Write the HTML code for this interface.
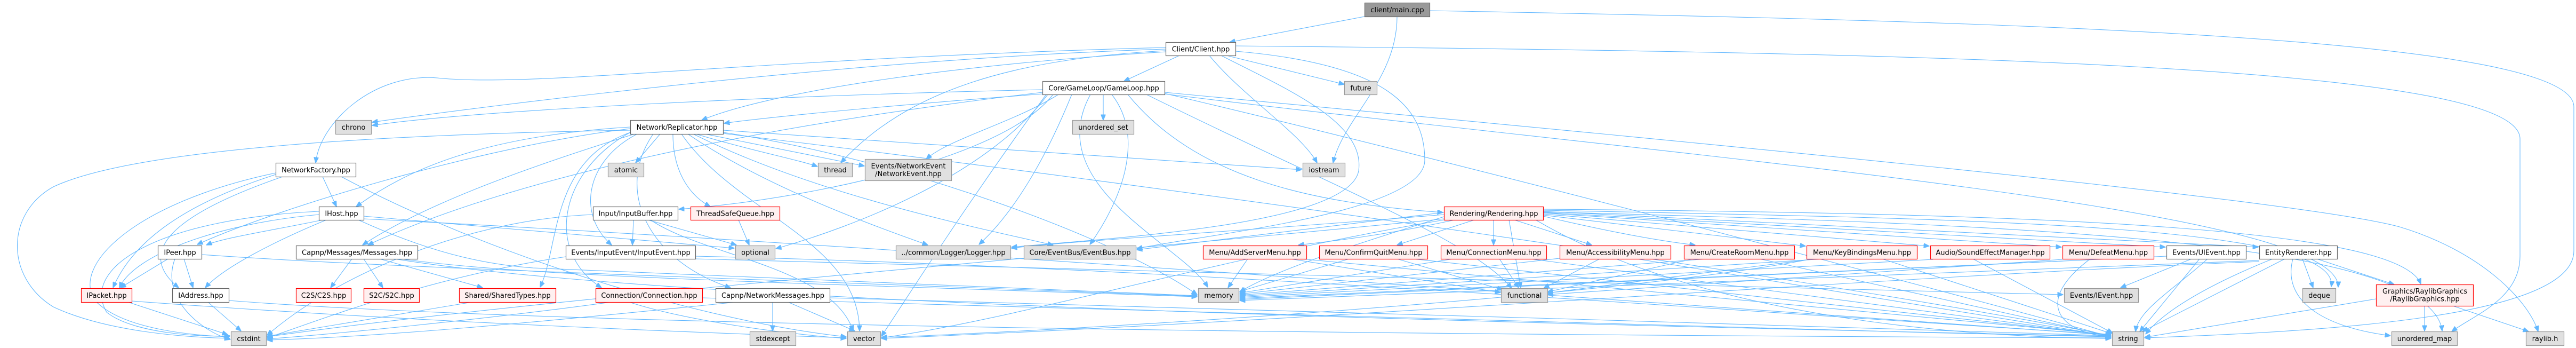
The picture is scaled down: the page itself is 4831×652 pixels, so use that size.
<!DOCTYPE html>
<html><head><meta charset="utf-8"><style>
html,body{margin:0;padding:0;background:#fff;}
body{width:4831px;height:652px;overflow:hidden;}
svg{display:block;}
.e path{fill:none;stroke:#63b8ff;stroke-width:1.1;marker-end:url(#a);}
.n rect{stroke-width:1.2;}
.w{fill:#fff;stroke:#666;}
.g{fill:#e0e0e0;stroke:#999;}
.r{fill:#fff0f0;stroke:#ff0000;}
.root{fill:#999;stroke:#666;}
text{font-family:"DejaVu Sans","Liberation Sans",sans-serif;font-size:13px;fill:#000;text-anchor:middle;}
</style></head><body>
<svg width="4831" height="652" viewBox="0 0 4831 652" xmlns="http://www.w3.org/2000/svg">
<defs><marker id="a" markerWidth="11" markerHeight="9" refX="10.5" refY="4.5" orient="auto" markerUnits="userSpaceOnUse"><path d="M0,0 L11,4.5 L0,9 z" fill="#63b8ff" stroke="#63b8ff" stroke-width="1"/></marker></defs>
<g class="e">
<path d="M2559 31 L2306 79"/>
<path d="M2620 31 C2620 150 2520 220 2500 305"/>
<path d="M2681 20 C3800 40 4827 70 4827 200 L4827 470 C4827 590 4400 620 4022 633"/>
<path d="M2212 104 L2108 152"/>
<path d="M2300 104 L2521 158"/>
<path d="M2268 104 C2330 180 2440 250 2470 305"/>
<path d="M2186 89 C1400 110 1000 165 820 146 C700 136 600 230 592 305"/>
<path d="M2186 92 C1600 110 900 200 698 229"/>
<path d="M2188 97 C1800 120 1450 170 1316 225"/>
<path d="M2186 95 C1900 110 1700 170 1577 305"/>
<path d="M2317 96 C2600 120 2672 200 2672 300 C2672 400 2250 440 2132 466"/>
<path d="M2290 104 C2420 170 2560 230 2548 320 C2530 420 2100 445 1897 463"/>
<path d="M2317 86 C3600 98 4726 120 4726 260 L4726 480 C4726 560 4640 590 4598 621"/>
<path d="M2069 177 L2069 225"/>
<path d="M1955 168 C1500 178 900 205 698 235"/>
<path d="M1955 176 C1700 195 1450 218 1358 231"/>
<path d="M2010 177 C1960 300 1900 400 1836 458"/>
<path d="M2085 177 C2150 260 2100 380 2044 458"/>
<path d="M1985 177 C1900 230 1780 260 1737 298"/>
<path d="M1975 177 C1880 300 1500 375 1273 392"/>
<path d="M1965 177 C1850 330 1600 425 1455 466"/>
<path d="M2115 177 C2240 330 2450 380 2706 398"/>
<path d="M2184 173 C3000 250 4300 370 4500 425 C4650 470 4740 560 4760 621"/>
<path d="M2045 177 C1950 350 2220 460 2265 538"/>
<path d="M2184 175 C2800 320 3700 560 3959 631"/>
<path d="M1962 177 C1800 400 1700 560 1653 630"/>
<path d="M2150 177 C2500 350 2760 450 2835 540"/>
<path d="M1955 173 C1300 250 900 360 690 459"/>
<path d="M2184 176 C3200 300 4390 390 4385 538"/>
<path d="M1238 251 L1192 305"/>
<path d="M1305 251 C1400 280 1500 300 1533 312"/>
<path d="M1322 251 L1621 311"/>
<path d="M1195 251 C1100 300 1080 400 1147 459"/>
<path d="M1262 251 C1262 330 1300 370 1332 387"/>
<path d="M1290 251 C1420 340 1600 410 1740 459"/>
<path d="M1278 251 C1380 400 1610 450 1612 620"/>
<path d="M1300 251 C1520 360 1800 420 1975 459"/>
<path d="M1182 248 C1050 320 1020 470 1128 539"/>
<path d="M1225 251 C1150 360 1220 490 1370 539"/>
<path d="M1185 247 C1030 300 1050 460 1013 538"/>
<path d="M1182 238 C900 255 760 320 668 387"/>
<path d="M1182 241 C900 275 520 390 370 458"/>
<path d="M1190 251 C1000 310 800 380 680 459"/>
<path d="M1182 244 C700 252 250 280 100 350 C10 400 10 520 100 575 C200 622 350 632 431 634"/>
<path d="M1356 248 C1700 300 2100 450 2245 552"/>
<path d="M1356 244 L2441 318"/>
<path d="M1356 250 C2200 350 3400 520 3959 629"/>
<path d="M605 331 L631 387"/>
<path d="M520 326 C350 380 250 450 212 539"/>
<path d="M530 331 C330 400 250 470 335 539"/>
<path d="M517 324 C250 380 130 500 180 565 C230 615 350 628 431 631"/>
<path d="M640 331 C900 470 1300 600 1587 631"/>
<path d="M605 412 C520 430 420 445 387 459"/>
<path d="M598 402 C400 420 250 480 224 539"/>
<path d="M612 412 C520 450 420 500 385 539"/>
<path d="M598 396 C300 410 150 500 200 585 C250 625 380 632 431 629"/>
<path d="M682 405 L1377 465"/>
<path d="M672 412 C800 470 900 495 1000 502 L2245 554"/>
<path d="M682 410 C1500 450 3000 560 3959 628"/>
<path d="M315 485 L226 539"/>
<path d="M345 485 L362 539"/>
<path d="M328 485 C300 560 380 622 432 636"/>
<path d="M378 477 C700 500 1200 515 2245 555"/>
<path d="M660 485 L620 539"/>
<path d="M682 485 L718 539"/>
<path d="M712 485 L905 539"/>
<path d="M752 485 C1000 520 1500 530 2245 556"/>
<path d="M740 485 C1200 560 2500 600 3959 630"/>
<path d="M240 566 L427 627"/>
<path d="M247 564 C600 590 1000 612 1587 633"/>
<path d="M390 566 L452 620"/>
<path d="M429 563 C900 600 2000 625 3959 633"/>
<path d="M885 566 L501 630"/>
<path d="M1188 412 L1186 459"/>
<path d="M1215 412 L1381 459"/>
<path d="M1220 412 C1320 480 1560 500 1600 620"/>
<path d="M1112 402 C900 410 650 500 501 628"/>
<path d="M1385 412 L1405 459"/>
<path d="M1061 481 C800 520 600 600 501 633"/>
<path d="M1304 485 C2000 505 3000 530 3869 552"/>
<path d="M1304 480 C2200 500 3200 580 3959 627"/>
<path d="M1145 566 C900 600 600 628 501 635"/>
<path d="M1180 566 C1300 605 1500 628 1587 634"/>
<path d="M1317 558 C2000 580 3000 610 3959 631"/>
<path d="M1449 566 L1449 620"/>
<path d="M1478 566 L1603 620"/>
<path d="M1380 566 C1000 605 700 632 501 637"/>
<path d="M1556 558 C2200 575 3200 605 3959 629"/>
<path d="M2728 412 C2600 440 2500 452 2435 459"/>
<path d="M2765 412 L2620 459"/>
<path d="M2801 412 L2801 459"/>
<path d="M2840 412 L2985 459"/>
<path d="M2894 405 C3000 430 3100 450 3179 459"/>
<path d="M2894 403 L3386 461"/>
<path d="M2894 401 L3618 461"/>
<path d="M2894 399 L3866 463"/>
<path d="M2894 398 L4061 463"/>
<path d="M2894 396 L4235 463"/>
<path d="M2894 394 C3700 410 4390 420 4372 537"/>
<path d="M2894 392 C3900 400 4500 430 4540 532"/>
<path d="M2880 412 C3200 600 3700 632 3959 634"/>
<path d="M2708 406 C2600 440 2400 500 2325 547"/>
<path d="M2830 412 L2852 539"/>
<path d="M2708 398 L2132 468"/>
<path d="M2708 402 C2400 428 2000 452 1897 465"/>
<path d="M2708 410 C2000 480 1000 560 501 631"/>
<path d="M2708 412 C2300 480 1900 600 1653 633"/>
<path d="M2894 397 C3800 420 4560 450 4580 620"/>
<path d="M2340 485 L2303 539"/>
<path d="M2420 485 L2814 548"/>
<path d="M2440 485 L3959 627"/>
<path d="M2530 485 L2325 546"/>
<path d="M2620 485 L2818 543"/>
<path d="M2650 485 L3959 628"/>
<path d="M2725 485 L2325 549"/>
<path d="M2812 485 L2848 539"/>
<path d="M2870 485 L3959 629"/>
<path d="M2925 484 L2325 551"/>
<path d="M3000 485 L2895 540"/>
<path d="M3070 485 L3959 630"/>
<path d="M3200 485 L2325 553"/>
<path d="M3175 485 L2902 547"/>
<path d="M3300 485 L3959 630"/>
<path d="M3420 485 L2325 555"/>
<path d="M3395 486 L2902 549"/>
<path d="M3530 485 L3960 625"/>
<path d="M3388 487 C3000 560 2000 620 1653 632"/>
<path d="M3625 486 L2325 557"/>
<path d="M3700 485 L3962 624"/>
<path d="M3870 489 L2325 559"/>
<path d="M3868 486 L2902 552"/>
<path d="M3920 485 C3820 560 3850 620 3959 632"/>
<path d="M4110 485 L3977 539"/>
<path d="M4125 485 L4013 621"/>
<path d="M4140 485 C4080 540 4010 580 4005 621"/>
<path d="M4063 480 L2325 561"/>
<path d="M4318 485 L4338 539"/>
<path d="M4345 485 L4490 533"/>
<path d="M4285 485 L4018 621"/>
<path d="M4262 485 C4150 530 4060 580 4024 626"/>
<path d="M4300 485 C4280 560 4350 612 4483 629"/>
<path d="M4237 488 L2325 563"/>
<path d="M4237 490 C3500 520 2500 600 1653 634"/>
<path d="M4547 573 L4547 620"/>
<path d="M4600 573 L4742 621"/>
<path d="M4456 560 L4022 632"/>
</g>
<g class="n">
<rect class="root" x="2559.5" y="5.5" width="122" height="26"/><text x="2620.5" y="23">client/main.cpp</text>
<rect class="w" x="2186.5" y="79.5" width="131" height="25"/><text x="2252" y="96.5">Client/Client.hpp</text>
<rect class="w" x="1955.5" y="152.5" width="229" height="25"/><text x="2070" y="169.5">Core/GameLoop/GameLoop.hpp</text>
<rect class="g" x="2521.5" y="152.5" width="61" height="25"/><text x="2552" y="169.5">future</text>
<rect class="g" x="629.5" y="225.5" width="67" height="26"/><text x="663" y="243">chrono</text>
<rect class="w" x="1182.5" y="225.5" width="174" height="26"/><text x="1269.5" y="243">Network/Replicator.hpp</text>
<rect class="g" x="2011.5" y="225.5" width="115" height="26"/><text x="2069" y="243">unordered_set</text>
<rect class="w" x="517.5" y="305.5" width="150" height="26"/><text x="592.5" y="323">NetworkFactory.hpp</text>
<rect class="g" x="1140.5" y="305.5" width="67" height="26"/><text x="1174" y="323">atomic</text>
<rect class="g" x="1534.5" y="305.5" width="64" height="26"/><text x="1566.5" y="323">thread</text>
<rect class="g" x="1622.5" y="298.5" width="162" height="40"/><text x="1703.5" y="315.5">Events/NetworkEvent</text><text x="1703.5" y="330">/NetworkEvent.hpp</text>
<rect class="g" x="2443.5" y="305.5" width="79" height="26"/><text x="2483" y="323">iostream</text>
<rect class="w" x="598.5" y="387.5" width="84" height="25"/><text x="640.5" y="404.5">IHost.hpp</text>
<rect class="w" x="1112.5" y="387.5" width="159" height="25"/><text x="1192" y="404.5">Input/InputBuffer.hpp</text>
<rect class="r" x="1295.5" y="387.5" width="167" height="25"/><text x="1379" y="404.5">ThreadSafeQueue.hpp</text>
<rect class="r" x="2708.5" y="387.5" width="186" height="25"/><text x="2801.5" y="404.5">Rendering/Rendering.hpp</text>
<rect class="w" x="296.5" y="460.5" width="82" height="25"/><text x="337.5" y="477.5">IPeer.hpp</text>
<rect class="w" x="555.5" y="460.5" width="228" height="25"/><text x="669.5" y="477.5">Capnp/Messages/Messages.hpp</text>
<rect class="w" x="1061.5" y="460.5" width="243" height="25"/><text x="1183" y="477.5">Events/InputEvent/InputEvent.hpp</text>
<rect class="g" x="1379.5" y="460.5" width="74" height="25"/><text x="1416.5" y="477.5">optional</text>
<rect class="g" x="1680.5" y="460.5" width="215" height="25"/><text x="1788" y="477.5">../common/Logger/Logger.hpp</text>
<rect class="g" x="1920.5" y="460.5" width="210" height="25"/><text x="2025.5" y="477.5">Core/EventBus/EventBus.hpp</text>
<rect class="r" x="2256.5" y="460.5" width="194" height="25"/><text x="2353.5" y="477.5">Menu/AddServerMenu.hpp</text>
<rect class="r" x="2474.5" y="460.5" width="203" height="25"/><text x="2576" y="477.5">Menu/ConfirmQuitMenu.hpp</text>
<rect class="r" x="2702.5" y="460.5" width="198" height="25"/><text x="2801.5" y="477.5">Menu/ConnectionMenu.hpp</text>
<rect class="r" x="2925.5" y="460.5" width="208" height="25"/><text x="3029.5" y="477.5">Menu/AccessibilityMenu.hpp</text>
<rect class="r" x="3158.5" y="460.5" width="207" height="25"/><text x="3262" y="477.5">Menu/CreateRoomMenu.hpp</text>
<rect class="r" x="3388.5" y="460.5" width="207" height="25"/><text x="3492" y="477.5">Menu/KeyBindingsMenu.hpp</text>
<rect class="r" x="3620.5" y="460.5" width="224" height="25"/><text x="3732.5" y="477.5">Audio/SoundEffectManager.hpp</text>
<rect class="r" x="3868.5" y="460.5" width="171" height="25"/><text x="3954" y="477.5">Menu/DefeatMenu.hpp</text>
<rect class="w" x="4063.5" y="460.5" width="149" height="25"/><text x="4138" y="477.5">Events/UIEvent.hpp</text>
<rect class="w" x="4237.5" y="460.5" width="146" height="25"/><text x="4310.5" y="477.5">EntityRenderer.hpp</text>
<rect class="r" x="152.5" y="540.5" width="95" height="26"/><text x="200" y="558">IPacket.hpp</text>
<rect class="w" x="323.5" y="540.5" width="106" height="26"/><text x="376.5" y="558">IAddress.hpp</text>
<rect class="r" x="555.5" y="540.5" width="103" height="26"/><text x="607" y="558">C2S/C2S.hpp</text>
<rect class="r" x="682.5" y="540.5" width="104" height="26"/><text x="734.5" y="558">S2C/S2C.hpp</text>
<rect class="r" x="861.5" y="540.5" width="181" height="26"/><text x="952" y="558">Shared/SharedTypes.hpp</text>
<rect class="r" x="1117.5" y="540.5" width="200" height="26"/><text x="1217.5" y="558">Connection/Connection.hpp</text>
<rect class="w" x="1342.5" y="540.5" width="214" height="26"/><text x="1449.5" y="558">Capnp/NetworkMessages.hpp</text>
<rect class="g" x="2247.5" y="540.5" width="76" height="26"/><text x="2285.5" y="558">memory</text>
<rect class="g" x="2815.5" y="540.5" width="87" height="26"/><text x="2859" y="558">functional</text>
<rect class="g" x="3871.5" y="540.5" width="139" height="26"/><text x="3941" y="558">Events/IEvent.hpp</text>
<rect class="g" x="4318.5" y="540.5" width="62" height="26"/><text x="4349.5" y="558">deque</text>
<rect class="r" x="4456.5" y="533.5" width="182" height="40"/><text x="4547.5" y="550">Graphics/RaylibGraphics</text><text x="4547.5" y="564.5">/RaylibGraphics.hpp</text>
<rect class="g" x="433.5" y="621.5" width="66" height="26"/><text x="466.5" y="639">cstdint</text>
<rect class="g" x="1406.5" y="621.5" width="86" height="26"/><text x="1449.5" y="639">stdexcept</text>
<rect class="g" x="1589.5" y="621.5" width="62" height="26"/><text x="1620.5" y="639">vector</text>
<rect class="g" x="3961.5" y="621.5" width="59" height="26"/><text x="3991" y="639">string</text>
<rect class="g" x="4485.5" y="621.5" width="123" height="26"/><text x="4547" y="639">unordered_map</text>
<rect class="g" x="4737.5" y="621.5" width="71" height="26"/><text x="4773" y="639">raylib.h</text>
</g>
</svg>
</body></html>
